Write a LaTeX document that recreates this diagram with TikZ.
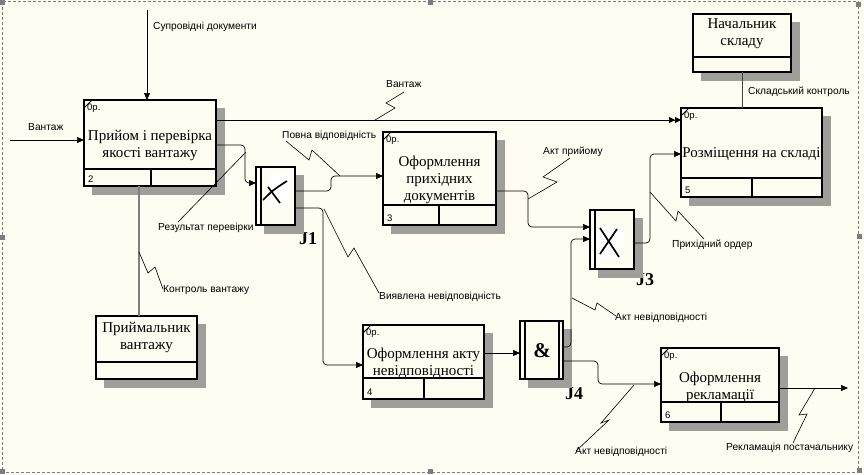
\documentclass[tikz,border=0pt]{standalone}
\usepackage{fontspec}
\setmainfont{Liberation Serif}
\setsansfont{Liberation Sans}
\usetikzlibrary{arrows.meta,calc}

\definecolor{paper}{RGB}{255,252,242}
\definecolor{handle}{RGB}{125,125,125}
\definecolor{dotgray}{RGB}{160,158,152}

\tikzset{
  box/.style={draw, line width=1.4pt, fill=paper, inner sep=0pt, outer sep=0pt, anchor=north west},
  boxshadow/.style={draw=dotgray, line width=8pt, line cap=butt},
  flow/.style={line width=0.7pt, rounded corners=4pt, -{Triangle[length=7pt,width=6pt]}},
  squig/.style={line width=0.6pt},
  lbl/.style={font=\sffamily\fontsize{10.2}{12}\selectfont, inner sep=0pt, anchor=west},
  title/.style={font=\fontsize{15}{17}\selectfont, align=center, inner sep=0pt},
  tag/.style={font=\sffamily\fontsize{9.5}{11}\selectfont, inner sep=0pt},
  jlabel/.style={font=\bfseries\fontsize{18}{20}\selectfont, inner sep=0pt},
}

% activity box: name, top left, width, height, strip, cell, number
\newcommand{\actbox}[7]{%
  \node[box, minimum width=#3pt, minimum height=#4pt] (#1) at (#2) {};
  \draw[line width=1.4pt] ([yshift=#5pt]#1.south west) -- ([yshift=#5pt]#1.south east);
  \draw[line width=1.4pt] ([xshift=#6pt]#1.south west) -- ([xshift=#6pt,yshift=#5pt]#1.south west);
  \draw[line width=1pt] ([yshift=-8pt]#1.north west) -- ([xshift=8pt]#1.north west);
  \node[tag, anchor=north west] (#1p) at ([shift={(3pt,-4pt)}]#1.north west) {0p.};
  \node[tag, anchor=south west] (#1n) at ([shift={(4pt,3pt)}]#1.south west) {#7};
}

\begin{document}
\begin{tikzpicture}[x=1pt,y=-1pt]
%the sheet
    \fill[paper] (0,0) rectangle (864,474);
    \draw[handle, line width=0.6pt, dash pattern=on 3pt off 2pt] (2,1.5) rectangle (858.5,472);
    \foreach \hx/\hy in {0/0,428/0,856/2,0/235,857/234,0/469,428/469,857/468}
       \fill[handle] (\hx,\hy) rectangle ++(5,5);

%the activities
    \actbox{b2}{84,100}{132}{86}{17}{67}{2}
    \actbox{b3}{383,132}{113}{93}{20}{56}{3}
    \actbox{b5}{681,108}{141}{89}{19}{71}{5}
    \actbox{b4}{363,325}{121}{74}{21}{61}{4}
    \actbox{b6}{661,348}{118}{74}{20}{60}{6}
    \node[title] (b2t) at ([yshift=-2pt]b2.center) {Прийом і перевірка\\якості вантажу};
    \node[title] (b3t) at ([yshift=-1.5pt]b3.center) {Оформлення\\прихідних\\документів};
    \node[title] (b5t) at ([yshift=-1.5pt]b5.center) {Розміщення на складі};
    \node[title] (b4t) at ([yshift=-1pt]b4.center) {Оформлення акту\\невідповідності};
    \node[title] (b6t) at ([yshift=-2pt]b6.center) {Оформлення\\рекламації};

%the people
    \node[box, minimum width=98pt, minimum height=58pt] (boss) at (693,14) {};
    \draw[line width=1.4pt] ([yshift=15pt]boss.south west) -- ([yshift=15pt]boss.south east);
    \node[title] (bosst) at ([yshift=9pt]boss.center) {Начальник\\складу};
    \node[box, minimum width=101pt, minimum height=63pt] (recv) at (96,316) {};
    \draw[line width=1.4pt] ([yshift=17pt]recv.south west) -- ([yshift=17pt]recv.south east);
    \node[title] (recvt) at ([yshift=10.5pt]recv.center) {Приймальник\\вантажу};

%the junctions
    \node[box, minimum width=39pt, minimum height=58pt] (j1) at (256,167) {};
    \draw[line width=1.4pt] ([xshift=5pt]j1.north west) -- ([xshift=5pt]j1.south west);
    \draw[white, line width=19pt, line cap=butt] (279.5,173) -- (279.5,207);
    \draw[line width=1.7pt] (263,200) .. controls (273,190) .. (287,181);
    \draw[line width=1.7pt] (268,187) -- (280,203);
    \node[jlabel] (j1l) at (308,239) {J1};

    \node[box, minimum width=44pt, minimum height=59pt] (j3) at (590,210) {};
    \draw[line width=1.4pt] ([xshift=5pt]j3.north west) -- ([xshift=5pt]j3.south west);
    \draw[white, line width=26pt, line cap=butt] (610,227) -- (610,258);
    \draw[line width=1.7pt] (600,228) -- (619,257);
    \draw[line width=1.7pt] (617,229) -- (600,254);
    \node[jlabel] (j3l) at (645,280) {J3};

    \node[box, minimum width=43pt, minimum height=58pt] (j4) at (520,321) {};
    \draw[line width=1.4pt] ([xshift=5pt]j4.north west) -- ([xshift=5pt]j4.south west);
    \draw[line width=1.4pt] ([xshift=-4pt]j4.north east) -- ([xshift=-4pt]j4.south east);
    \node[font=\bfseries\fontsize{21}{22}\selectfont, inner sep=0pt] (j4s) at (542,351) {\&};
    \node[jlabel] (j4l) at (574,394) {J4};

%the shadows
    \foreach \bx in {b2,b3,b4,b5,b6,boss,recv,j1,j3,j4}{
       \draw[boxshadow] ([shift={(4.7pt,-8pt)}]\bx.north east) -- ([shift={(4.7pt,-8.7pt)}]\bx.south east);
       \draw[boxshadow] ([shift={(8pt,-4.7pt)}]\bx.south west) -- ([shift={(0.7pt,-4.7pt)}]\bx.south east);
    }

%the arrows
    \coordinate (inCargo) at (10,140);
    \coordinate (inDocs) at (147,10);
    \coordinate (outClaim) at (848,388);
    \coordinate (p1) at ([yshift=-20pt]b2.north east);
    \coordinate (p2) at ([yshift=-45pt]b2.north east);
    \coordinate (q2) at ([yshift=-16pt]j1.north west);
    \coordinate (p3) at ([yshift=-24pt]j1.north east);
    \coordinate (q3) at ([yshift=-44pt]b3.north west);
    \coordinate (p4) at ([yshift=-41pt]j1.north east);
    \coordinate (q4) at ([yshift=-40pt]b4.north west);
    \coordinate (p5) at ([yshift=-59pt]b3.north east);
    \coordinate (q5) at ([yshift=-17pt]j3.north west);
    \coordinate (p6) at ([yshift=-33pt]j3.north east);
    \coordinate (q6) at ([yshift=-46pt]b5.north west);
    \coordinate (p7) at ([yshift=-28pt]b4.north east);
    \coordinate (p8) at ([yshift=-26pt]j4.north east);
    \coordinate (q8) at ([yshift=-29pt]j3.north west);
    \coordinate (p9) at ([yshift=-40pt]j4.north east);
    \coordinate (q9) at ([yshift=-36pt]b6.north west);
    \coordinate (p10) at ([yshift=-40pt]b6.north east);
    \coordinate (m1) at ([xshift=-11pt]b2.south);

    \draw[flow] (inCargo) -- (inCargo -| b2.west);
    \draw[flow] (inDocs) -- (inDocs |- b2.north);
    \draw[line width=0.7pt, -{Triangle[length=6pt,width=6pt] Triangle[length=6pt,width=6pt]}] (p1) -- (p1 -| b5.west);
    \draw[flow] (p2) -- ++(29,0) |- (q2);
    \draw[flow] (p3) -- ++(36,0) |- (q3);
    \draw[flow] (p4) -- ++(28,0) |- (q4);
    \draw[flow] (p5) -- ++(32,0) |- (q5);
    \draw[flow] (p6) -- ++(16,0) |- (q6);
    \draw[flow] (p7) -- (p7 -| j4.west);
    \draw[flow] (p8) -- ++(8,0) |- (q8);
    \draw[flow] (p9) -- ++(35,0) |- (q9);
    \draw[flow] (p10) -- (outClaim);
    \draw[line width=0.7pt, black!75] (boss.south) -- (boss.south |- b5.north);
    \draw[line width=1.6pt, black!50] (m1) -- (m1 |- recv.north);

%the labels
    \node[lbl] (lDocs) at (153,27) {Супровідні документи};
    \node[lbl] (lCargo1) at (28,127) {Вантаж};
    \node[lbl] (lCargo2) at (386,84) {Вантаж};
    \node[lbl] (lFull) at (282,136) {Повна відповідність};
    \node[lbl] (lCheck) at (158,228) {Результат перевірки};
    \node[lbl] (lFound) at (379,297) {Виявлена невідповідність};
    \node[lbl] (lCtrl) at (163,290) {Контроль вантажу};
    \node[lbl] (lAct) at (543,152) {Акт прийому};
    \node[lbl] (lStore) at (748,92) {Складський контроль};
    \node[lbl] (lOrder) at (672,245) {Прихідний ордер};
    \node[lbl] (lBad1) at (615,318) {Акт невідповідності};
    \node[lbl] (lBad2) at (575,452) {Акт невідповідності};
    \node[lbl] (lClaim) at (726,448) {Рекламація постачальнику};

%the squiggles
    \draw[squig] (404,92) -- (386,103) -- (395,108) -- (375,120);
    \draw[squig] (286,141) -- (309,160) -- (312,150) -- (340,176);
    \draw[squig] (246,152) -- (178,222);
    \draw[squig] (324,209) -- (348,257) -- (354,248) -- (379,293);
    \draw[squig] (139,252) -- (148,273) -- (155,267) -- (163,289);
    \draw[squig] (570,158) -- (543,177) -- (557,182) -- (528,199);
    \draw[squig] (650,192) -- (676,221) -- (678,211) -- (704,239);
    \draw[squig] (572,298) -- (595,310) -- (597,303) -- (616,316);
    \draw[squig] (634,385) -- (601,423) -- (609,420) -- (576,451);
    \draw[squig] (815,388) -- (799,415) -- (807,414) -- (793,443);
    \useasboundingbox (0,0) rectangle (864,474);
\end{tikzpicture}
\end{document}
